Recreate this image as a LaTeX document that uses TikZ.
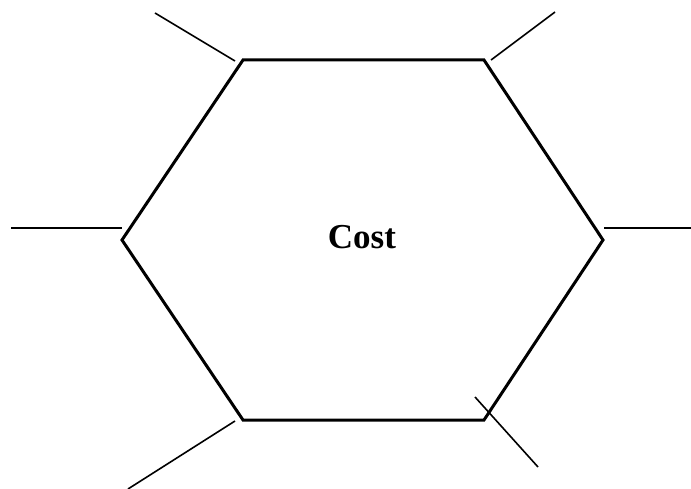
\documentclass[tikz,border=0pt]{standalone}
\usepackage{fontspec}
\setmainfont{Liberation Serif}
\usepackage{tikz}

\begin{document}
\begin{tikzpicture}[x=1pt,y=-1pt]
      \useasboundingbox (0,0) rectangle (691,489);
      \coordinate (tl) at (243,60);
      \coordinate (tr) at (484,60);
      \coordinate (r) at (603,240);
      \coordinate (br) at (484,420);
      \coordinate (bl) at (243,420);
      \coordinate (l) at (122,240);
      \draw [-,line width=3pt,black,line join=miter] (tl) -- (tr) -- (r) -- (br) -- (bl) -- (l) -- cycle;
      \draw [-,line width=1.6pt,black] (155,13) -- (235,61);
      \draw [-,line width=1.6pt,black] (491,60) -- (555,12);
      \draw [-,line width=1.6pt,black] (11,228) -- (122,228);
      \draw [-,line width=1.6pt,black] (604,228) -- (691,228);
      \draw [-,line width=1.6pt,black] (235,421) -- (128,489);
      \draw [-,line width=1.6pt,black] (475,397) -- (538,467);
      \node (cost) at (362,237) {\fontsize{35}{40}\selectfont\bfseries Cost};
    \end{tikzpicture}
\end{document}
